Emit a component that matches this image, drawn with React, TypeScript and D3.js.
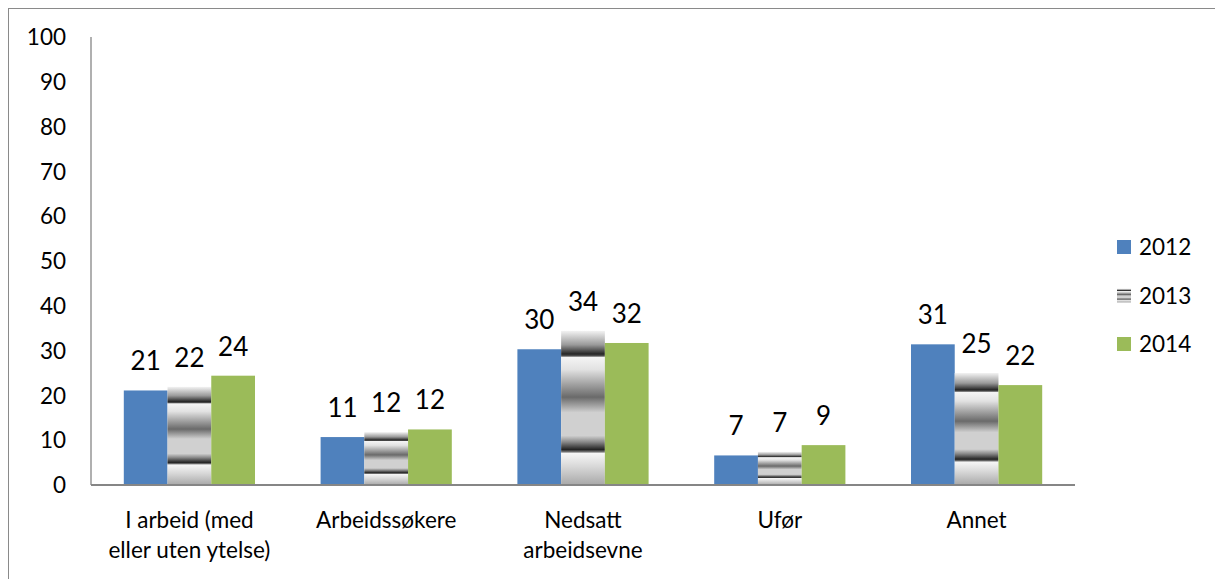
import React from 'react';
import * as d3 from 'd3';

const categories = [['I arbeid (med', 'eller uten ytelse)'], ['Arbeidssøkere'], ['Nedsatt', 'arbeidsevne'], ['Ufør'], ['Annet']];
const years = ['2012', '2013', '2014'];
const values2012 = [21.1, 10.7, 30.3, 6.6, 31.4];
const values2013 = [21.9, 11.8, 34.4, 7.4, 25.0];
const values2014 = [24.4, 12.4, 31.7, 8.9, 22.3];
const yTicks = [0, 10, 20, 30, 40, 50, 60, 70, 80, 90, 100];

const series = [values2012, values2013, values2014];
const fills = ['#4f81bd', 'url(#stripes)', '#9bbb59'];

const W = 1215;
const H = 579;
const plot = { left: 91, right: 1075, top: 37, bottom: 485 };
const font = 'Lato, "Open Sans", sans-serif';

export default function App() {
  const x = d3.scaleBand<number>()
    .domain(d3.range(categories.length))
    .range([plot.left, plot.right]);
  const bw = x.bandwidth() / 4.5;
  const x1 = d3.scaleBand<number>()
    .domain([0, 1, 2])
    .range([bw * 0.75, bw * 3.75]);
  const y = d3.scaleLinear().domain([0, 100]).range([plot.bottom, plot.top]);

  return (
    <svg width={W} height={H} style={{ position: 'absolute', left: 0, top: 0, display: 'block' }} fontFamily={font}>
      <defs>
        <linearGradient id="stripes" x1="0" y1="0" x2="0" y2="1">
          <stop offset="0" stopColor="#f2f2f2" />
          <stop offset="0.015" stopColor="#e4e4e4" />
          <stop offset="0.09" stopColor="#9a9a9a" />
          <stop offset="0.15" stopColor="#262626" />
          <stop offset="0.163" stopColor="#555" />
          <stop offset="0.172" stopColor="#f4f4f4" />
          <stop offset="0.25" stopColor="#e2e2e2" />
          <stop offset="0.43" stopColor="#6a6a6a" />
          <stop offset="0.53" stopColor="#d0d0d0" />
          <stop offset="0.68" stopColor="#d0d0d0" />
          <stop offset="0.72" stopColor="#8a8a8a" />
          <stop offset="0.77" stopColor="#232323" />
          <stop offset="0.785" stopColor="#777" />
          <stop offset="0.795" stopColor="#f6f6f6" />
          <stop offset="0.88" stopColor="#d8d8d8" />
          <stop offset="1" stopColor="#a8a8a8" />
        </linearGradient>
      </defs>
      <rect x={W * 0} y={0} width={W} height={H} fill="#fff" />
      <rect x={8.5} y={8.5} width={W} height={H} fill="none" stroke="#8a8a8a" />

      {yTicks.map((t) => (
        <text key={t} x={66} y={y(t)} dy="0.36em" textAnchor="end" fontSize={22.5} fill="#000">{t}</text>
      ))}

      {series.map((vals, s) =>
        vals.map((v, i) => {
          const bx = (x(i) as number) + (x1(s) as number);
          return (
            <g key={`${s}-${i}`}>
              <rect x={bx} y={y(v)} width={x1.bandwidth()} height={y(0) - y(v)} fill={fills[s]} />
              <text x={bx + x1.bandwidth() / 2} y={y(v) - 20} textAnchor="middle" fontSize={26} fill="#000">
                {Math.round(v)}
              </text>
            </g>
          );
        })
      )}

      <line x1={plot.left} x2={plot.left} y1={plot.top} y2={plot.bottom} stroke="#868686" strokeWidth={1.3} />
      <line x1={plot.left} x2={plot.right} y1={plot.bottom} y2={plot.bottom} stroke="#868686" strokeWidth={2} />

      {categories.map((lines, i) => (
        <text key={i} x={(x(i) as number) + x.bandwidth() / 2} textAnchor="middle" fontSize={22.5} fill="#000">
          {lines.map((l, j) => (
            <tspan key={j} x={(x(i) as number) + x.bandwidth() / 2} y={528 + j * 30}>{l}</tspan>
          ))}
        </text>
      ))}

      {years.map((yr, k) => (
        <g key={yr} transform={`translate(1117, ${240 + k * 48.5})`}>
          <rect width={14} height={14} fill={fills[k]} />
          <text x={22} y={7} dy="0.36em" fontSize={22.5} fill="#000">{yr}</text>
        </g>
      ))}
    </svg>
  );
}
